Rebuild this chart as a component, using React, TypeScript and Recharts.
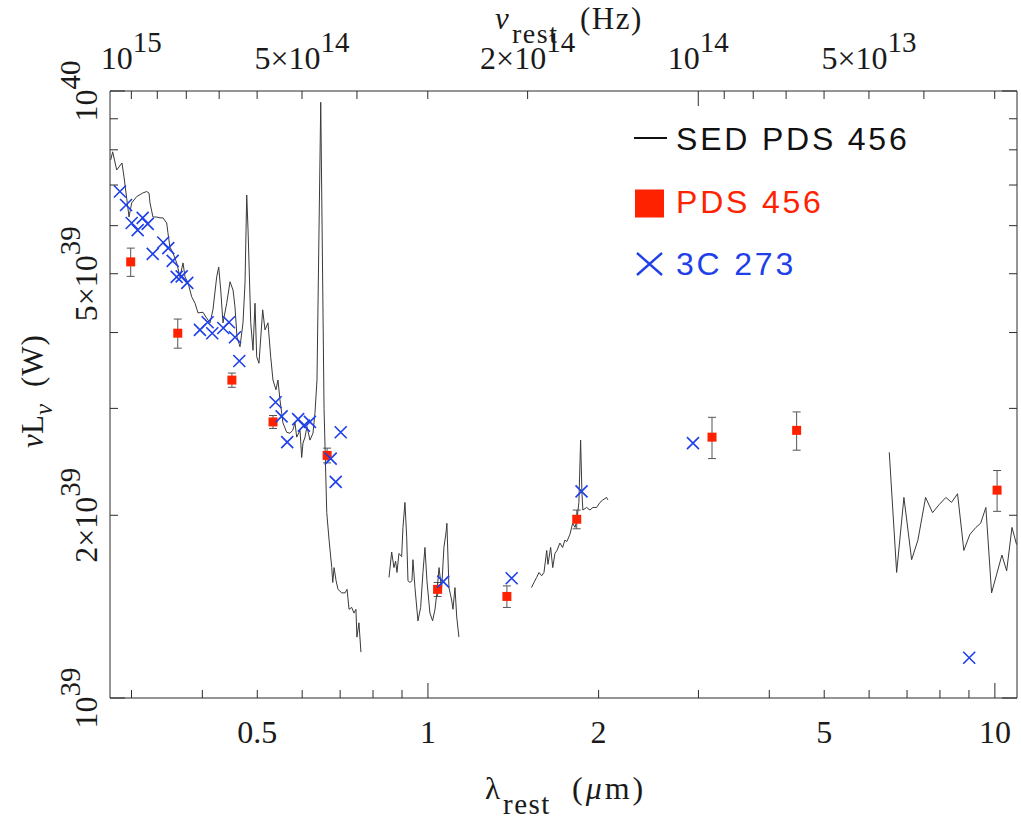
import React from "react";
import { ComposedChart, Scatter, XAxis, YAxis, ErrorBar, Legend } from "recharts";

// rest-frame wavelength (um) and nuLnu in units of 1e39 W
const sedOptical: [number, number][] = [
	[0.2757, 7.7], [0.2779, 7.94], [0.2825, 7.41], [0.2886, 7.61], [0.291, 7.22], [0.297, 6.2],
	[0.3002, 6.54], [0.3064, 6.7], [0.3139, 6.79], [0.3191, 6.83], [0.3221, 6.79], [0.3234, 6.54],
	[0.3273, 6.2], [0.3323, 6.2], [0.3368, 6.18], [0.3409, 6.18], [0.3461, 6.06], [0.3478, 5.84],
	[0.3507, 5.53], [0.355, 5.41], [0.3604, 5.21], [0.3653, 4.94], [0.3698, 5.21], [0.3728, 4.94],
	[0.3774, 4.83], [0.3831, 4.58], [0.3883, 4.47], [0.393, 4.31], [0.4011, 4.32], [0.406, 4.24],
	[0.4126, 4.15], [0.4176, 4.36], [0.424, 4.94], [0.4275, 5.13], [0.431, 4.7], [0.435, 4.15],
	[0.4416, 4.47], [0.4476, 4.85], [0.4531, 4.7], [0.4567, 4.41], [0.4605, 3.93], [0.4661, 3.79],
	[0.4718, 4.15], [0.4757, 4.83], [0.479, 6.74], [0.4816, 5.9], [0.4869, 4.15], [0.4914, 3.74],
	[0.4954, 4.47], [0.4988, 3.65], [0.5034, 3.56], [0.5111, 4.36], [0.5159, 4.04], [0.5222, 4.15],
	[0.528, 3.65], [0.5329, 3.34], [0.5394, 3.22], [0.5438, 3.34], [0.5482, 3.1], [0.552, 2.95],
	[0.5549, 2.84], [0.5634, 2.74], [0.571, 2.73], [0.5773, 2.76], [0.5827, 2.84], [0.5868, 2.69],
	[0.5948, 2.76], [0.5988, 2.49], [0.602, 2.63], [0.6069, 2.69], [0.6118, 2.8], [0.6193, 2.66],
	[0.6269, 2.73], [0.632, 2.95], [0.6372, 3.34], [0.647, 9.58], [0.6557, 3.0], [0.6584, 2.59],
	[0.663, 2.02], [0.6693, 1.82], [0.6766, 1.64], [0.6793, 1.55], [0.683, 1.64], [0.6886, 1.56],
	[0.6941, 1.51], [0.7046, 1.49], [0.7141, 1.49], [0.72, 1.51], [0.7258, 1.4], [0.7337, 1.41],
	[0.7405, 1.38], [0.7464, 1.4], [0.7494, 1.26], [0.7556, 1.33], [0.7617, 1.19],
];

const sedNearIr: [number, number][] = [
	[0.8537, 1.58], [0.863, 1.74], [0.871, 1.64], [0.877, 1.68], [0.8818, 1.61], [0.8889, 1.73],
	[0.8987, 1.71], [0.9035, 1.91], [0.9108, 2.1], [0.9173, 1.84], [0.9221, 1.56], [0.9296, 1.55],
	[0.9371, 1.56], [0.9409, 1.69], [0.9486, 1.52], [0.9602, 1.34], [0.9708, 1.41], [0.9799, 1.61],
	[0.9879, 1.77], [0.9959, 1.56], [1.008, 1.38], [1.019, 1.34], [1.029, 1.4], [1.037, 1.49],
	[1.046, 1.64], [1.057, 1.51], [1.067, 1.77], [1.076, 1.87], [1.08, 1.94], [1.089, 1.52],
	[1.101, 1.45], [1.107, 1.4], [1.116, 1.52], [1.124, 1.36], [1.134, 1.26],
];

const sedK: [number, number][] = [
	[1.523, 1.52], [1.538, 1.55], [1.555, 1.58], [1.57, 1.61], [1.587, 1.59], [1.602, 1.61],
	[1.62, 1.75], [1.628, 1.66], [1.646, 1.77], [1.66, 1.64], [1.675, 1.73], [1.689, 1.75],
	[1.709, 1.8], [1.728, 1.77], [1.744, 1.82], [1.758, 1.81], [1.78, 1.86], [1.8, 1.94],
	[1.817, 1.91], [1.831, 1.96], [1.846, 2.1], [1.859, 2.66], [1.869, 2.18], [1.876, 2.04],
	[1.905, 2.06], [1.931, 2.04], [1.954, 2.06], [1.984, 2.06], [2.011, 2.1], [2.035, 2.12],
	[2.066, 2.14], [2.077, 2.12],
];

const sedMidIr: [number, number][] = [
	[6.512, 2.54], [6.71, 1.61], [6.911, 2.14], [7.131, 1.69], [7.315, 1.82], [7.547, 2.14],
	[7.764, 2.02], [7.965, 2.08], [8.195, 2.14], [8.386, 2.1], [8.593, 2.17], [8.816, 1.75],
	[9.034, 1.86], [9.258, 1.91], [9.437, 1.94], [9.641, 2.06], [9.867, 1.49], [10.29, 1.72],
	[10.49, 1.62], [10.72, 1.91], [10.92, 1.79],
];

// [lambda, nuLnu, error]
const pds456: [number, number, number][] = [
	[0.299, 5.23, 0.28], [0.362, 3.99, 0.22], [0.451, 3.34, 0.09], [0.533, 2.85, 0.07],
	[0.664, 2.51, 0.07], [1.04, 1.51, 0.04], [1.378, 1.47, 0.06], [1.83, 1.97, 0.07],
	[3.17, 2.69, 0.21], [4.47, 2.76, 0.2], [10.09, 2.2, 0.17],
];

const c3c273: [number, number][] = [
	[0.2862, 6.83], [0.2934, 6.49], [0.3002, 6.06], [0.3076, 5.9], [0.3139, 6.18], [0.3204, 6.04],
	[0.327, 5.39], [0.3413, 5.63], [0.3483, 5.51], [0.3546, 5.25], [0.3604, 4.94], [0.3678, 4.95],
	[0.3762, 4.83], [0.3961, 4.04], [0.4087, 4.16], [0.4164, 3.99], [0.4355, 4.07], [0.4457, 4.16],
	[0.4567, 3.93], [0.4648, 3.59], [0.5386, 3.07], [0.5519, 2.91], [0.5646, 2.64], [0.5903, 2.88],
	[0.6041, 2.81], [0.6191, 2.85], [0.6737, 2.48], [0.6875, 2.27], [0.7016, 2.74], [1.064, 1.555],
	[1.405, 1.575], [1.866, 2.19], [2.934, 2.63], [9.01, 1.165],
];

const lambdaDomain = [0.2749, 10.94];
const lumDomain = [1, 10];

const lambdaTicks = [0.3, 0.4, 0.5, 0.6, 0.7, 0.8, 0.9, 1, 2, 3, 4, 5, 6, 7, 8, 9, 10];
const lambdaMajor = [1, 10];
const lambdaLabels: [number, string][] = [[0.5, "0.5"], [1, "1"], [2, "2"], [5, "5"], [10, "10"]];

const lumTicks = [1, 2, 3, 4, 5, 6, 7, 8, 9, 10];
const lumMajor = [1, 10];
const lumLabels: [number, string, string][] = [
	[1, "10", "39"], [2, "2×10", "39"], [5, "5×10", "39"], [10, "10", "40"],
];

const C_UM_HZ = 2.998e14;
const nuTicks = [1e15, 9e14, 8e14, 7e14, 6e14, 5e14, 4e14, 3e14, 2e14, 1e14, 9e13, 8e13, 7e13, 6e13, 5e13, 4e13, 3e13];
const nuMajor = [1e14];
const nuLabels: [number, string, string][] = [
	[1e15, "10", "15"], [5e14, "5×10", "14"], [2e14, "2×10", "14"], [1e14, "10", "14"], [5e13, "5×10", "13"],
];

const SERIF = '"Liberation Serif", "Times New Roman", serif';
const SANS = '"Liberation Sans", Arial, sans-serif';
const INK = "#2b2b2b";
const LINE = "#3a3a3a";
const TEXT = "#1a1a1a";
const RED = "#ff2200";
const BLUE = "#1f3fe8";

const legendItems = [
	{ name: "SED PDS 456", color: "#111111", marker: "line" },
	{ name: "PDS 456", color: RED, marker: "square" },
	{ name: "3C 273", color: BLUE, marker: "cross" },
];

const toPoints = (rows: number[][]) => rows.map(([x, y, err]) => ({ x, y, err }));

const tickLen = (major: boolean) => (major ? 15 : 8);

const BottomTick = (p: any) => {
	const v = p.payload.value;
	const lab = lambdaLabels.find((l) => l[0] === v);
	return (
		<g>
			<line x1={p.x} x2={p.x} y1={p.y} y2={p.y - tickLen(lambdaMajor.includes(v))} stroke={INK} />
			{lab && (
				<text x={p.x} y={p.y + 45} textAnchor="middle" fontFamily={SERIF} fontSize={32} fill={TEXT}>
					{lab[1]}
				</text>
			)}
		</g>
	);
};

const TopTick = (p: any) => {
	const nu = C_UM_HZ / p.payload.value;
	const hit = nuTicks.find((t) => Math.abs(t - nu) / t < 1e-4) ?? 0;
	const lab = nuLabels.find((l) => l[0] === hit);
	return (
		<g>
			<line x1={p.x} x2={p.x} y1={p.y} y2={p.y + tickLen(nuMajor.includes(hit))} stroke={INK} />
			{lab && (
				<text x={p.x} y={p.y - 22} textAnchor="middle" fontFamily={SERIF} fontSize={32} fill={TEXT}>
					{lab[1]}
					<tspan dy={-17} fontSize={29}>{lab[2]}</tspan>
				</text>
			)}
		</g>
	);
};

const LeftTick = (p: any) => {
	const v = p.payload.value;
	const lab = lumLabels.find((l) => l[0] === v);
	const tx = p.x - 13;
	return (
		<g>
			<line x1={p.x} x2={p.x + tickLen(lumMajor.includes(v))} y1={p.y} y2={p.y} stroke={INK} />
			{lab && (
				<text
					x={tx}
					y={p.y}
					transform={`rotate(-90 ${tx} ${p.y})`}
					textAnchor="middle"
					fontFamily={SERIF}
					fontSize={32}
					fill={TEXT}
				>
					{lab[1]}
					<tspan dy={-17} fontSize={29}>{lab[2]}</tspan>
				</text>
			)}
		</g>
	);
};

const RightTick = (p: any) => (
	<line
		x1={p.x}
		x2={p.x - tickLen(lumMajor.includes(p.payload.value))}
		y1={p.y}
		y2={p.y}
		stroke={INK}
	/>
);

const NoDot = () => <g />;

const Square = (p: any) => <rect x={p.cx - 4.5} y={p.cy - 4.5} width={9} height={9} fill={RED} />;

const Cross = (p: any) => (
	<path
		d={`M${p.cx - 6},${p.cy - 6}L${p.cx + 6},${p.cy + 6}M${p.cx + 6},${p.cy - 6}L${p.cx - 6},${p.cy + 6}`}
		stroke={BLUE}
		strokeWidth={1.6}
		fill="none"
	/>
);

const LegendMarker = ({ type, b, color }: { type: string; b: number; color: string }) => {
	if (type === "line") return <line x1={4} x2={37} y1={b - 12} y2={b - 12} stroke={color} strokeWidth={2} />;
	if (type === "square") return <rect x={5} y={b - 23} width={29} height={28} fill={color} />;
	return (
		<path
			d={`M7,${b - 22}L32,${b}M32,${b - 22}L7,${b}`}
			stroke={color}
			strokeWidth={2.4}
			fill="none"
		/>
	);
};

const LegendBox = () => (
	<svg width={300} height={180} style={{ display: "block", overflow: "visible" }}>
		{legendItems.map((e, i) => {
			const b = 40 + i * 62.5;
			return (
				<g key={e.name}>
					<LegendMarker type={e.marker} b={b} color={e.color} />
					<text x={46} y={b} fill={e.color} fontFamily={SANS} fontSize={32} letterSpacing={2.8}>
						{e.name}
					</text>
				</g>
			);
		})}
	</svg>
);

const BottomTitle = () => (
	<g fontFamily={SERIF} fill={TEXT}>
		<text x={485} y={799} fontSize={31}>λ</text>
		<text x={503} y={814} fontSize={29} letterSpacing={1.5}>rest</text>
		<text x={572} y={799} fontSize={32} letterSpacing={3}>
			(<tspan fontStyle="italic">μ</tspan>m)
		</text>
	</g>
);

const TopTitle = () => (
	<g fontFamily={SERIF} fill={TEXT}>
		<text x={495} y={29} fontSize={31} fontStyle="italic">ν</text>
		<text x={512} y={43} fontSize={28} letterSpacing={1.5}>rest</text>
		<text x={580} y={29} fontSize={31} letterSpacing={1.5}>(Hz)</text>
	</g>
);

const LeftTitle = () => (
	<g transform="translate(43 448) rotate(-90)" fontFamily={SERIF} fill={TEXT}>
		<text x={0} y={0} fontSize={31} fontStyle="italic">ν</text>
		<text x={14} y={0} fontSize={31}>L</text>
		<text x={33} y={9} fontSize={25} fontStyle="italic">ν</text>
		<text x={61} y={0} fontSize={31} letterSpacing={1}>(W)</text>
	</g>
);

const App = () => {
	return (
		<div style={{ position: "absolute", left: 0, top: 0, width: 1021, height: 820, background: "#fff" }}>
			<ComposedChart width={1021} height={820} margin={{ top: 0, right: 0, bottom: 0, left: 0 }}>
				<XAxis
					dataKey="x"
					type="number"
					scale="log"
					domain={lambdaDomain}
					allowDataOverflow
					ticks={lambdaTicks}
					interval={0}
					height={122}
					tickSize={0}
					tickMargin={0}
					tick={BottomTick}
					stroke={INK}
					label={{ content: BottomTitle }}
				/>
				<XAxis
					xAxisId="top"
					dataKey="x"
					orientation="top"
					type="number"
					scale="log"
					domain={lambdaDomain}
					allowDataOverflow
					ticks={nuTicks.map((nu) => C_UM_HZ / nu)}
					interval={0}
					height={91}
					tickSize={0}
					tickMargin={0}
					tick={TopTick}
					stroke={INK}
					label={{ content: TopTitle }}
				/>
				<YAxis
					dataKey="y"
					type="number"
					scale="log"
					domain={lumDomain}
					allowDataOverflow
					ticks={lumTicks}
					interval={0}
					width={110}
					tickSize={0}
					tickMargin={0}
					tick={LeftTick}
					stroke={INK}
					label={{ content: LeftTitle }}
				/>
				<YAxis
					yAxisId="right"
					dataKey="y"
					orientation="right"
					type="number"
					scale="log"
					domain={lumDomain}
					allowDataOverflow
					ticks={lumTicks}
					interval={0}
					width={4}
					tickSize={0}
					tickMargin={0}
					tick={RightTick}
					stroke={INK}
				/>
				<Legend
					layout="vertical"
					align="center"
					verticalAlign="middle"
					wrapperStyle={{ left: 630, top: 110, width: 300 }}
					content={LegendBox}
				/>
				<Scatter
					name="SED PDS 456"
					data={toPoints(sedOptical)}
					fill="#111111"
					legendType="line"
					line={{ stroke: LINE, strokeWidth: 1 }}
					shape={NoDot}
					isAnimationActive={false}
				/>
				<Scatter
					data={toPoints(sedNearIr)}
					fill="#111111"
					legendType="none"
					line={{ stroke: LINE, strokeWidth: 1 }}
					shape={NoDot}
					isAnimationActive={false}
				/>
				<Scatter
					data={toPoints(sedK)}
					fill="#111111"
					legendType="none"
					line={{ stroke: LINE, strokeWidth: 1 }}
					shape={NoDot}
					isAnimationActive={false}
				/>
				<Scatter
					data={toPoints(sedMidIr)}
					fill="#111111"
					legendType="none"
					line={{ stroke: LINE, strokeWidth: 1 }}
					shape={NoDot}
					isAnimationActive={false}
				/>
				<Scatter
					name="PDS 456"
					data={toPoints(pds456)}
					fill={RED}
					legendType="square"
					shape={Square}
					isAnimationActive={false}
				>
					<ErrorBar dataKey="err" direction="y" width={4} stroke="#555555" strokeWidth={1} />
				</Scatter>
				<Scatter
					name="3C 273"
					data={toPoints(c3c273)}
					fill={BLUE}
					legendType="cross"
					shape={Cross}
					isAnimationActive={false}
				/>
				{/* binds the top (frequency) and right axes so that they get ticks */}
				<Scatter
					xAxisId="top"
					yAxisId="right"
					data={toPoints(pds456)}
					legendType="none"
					shape={NoDot}
					isAnimationActive={false}
				/>
			</ComposedChart>
		</div>
	);
};

export default App;
